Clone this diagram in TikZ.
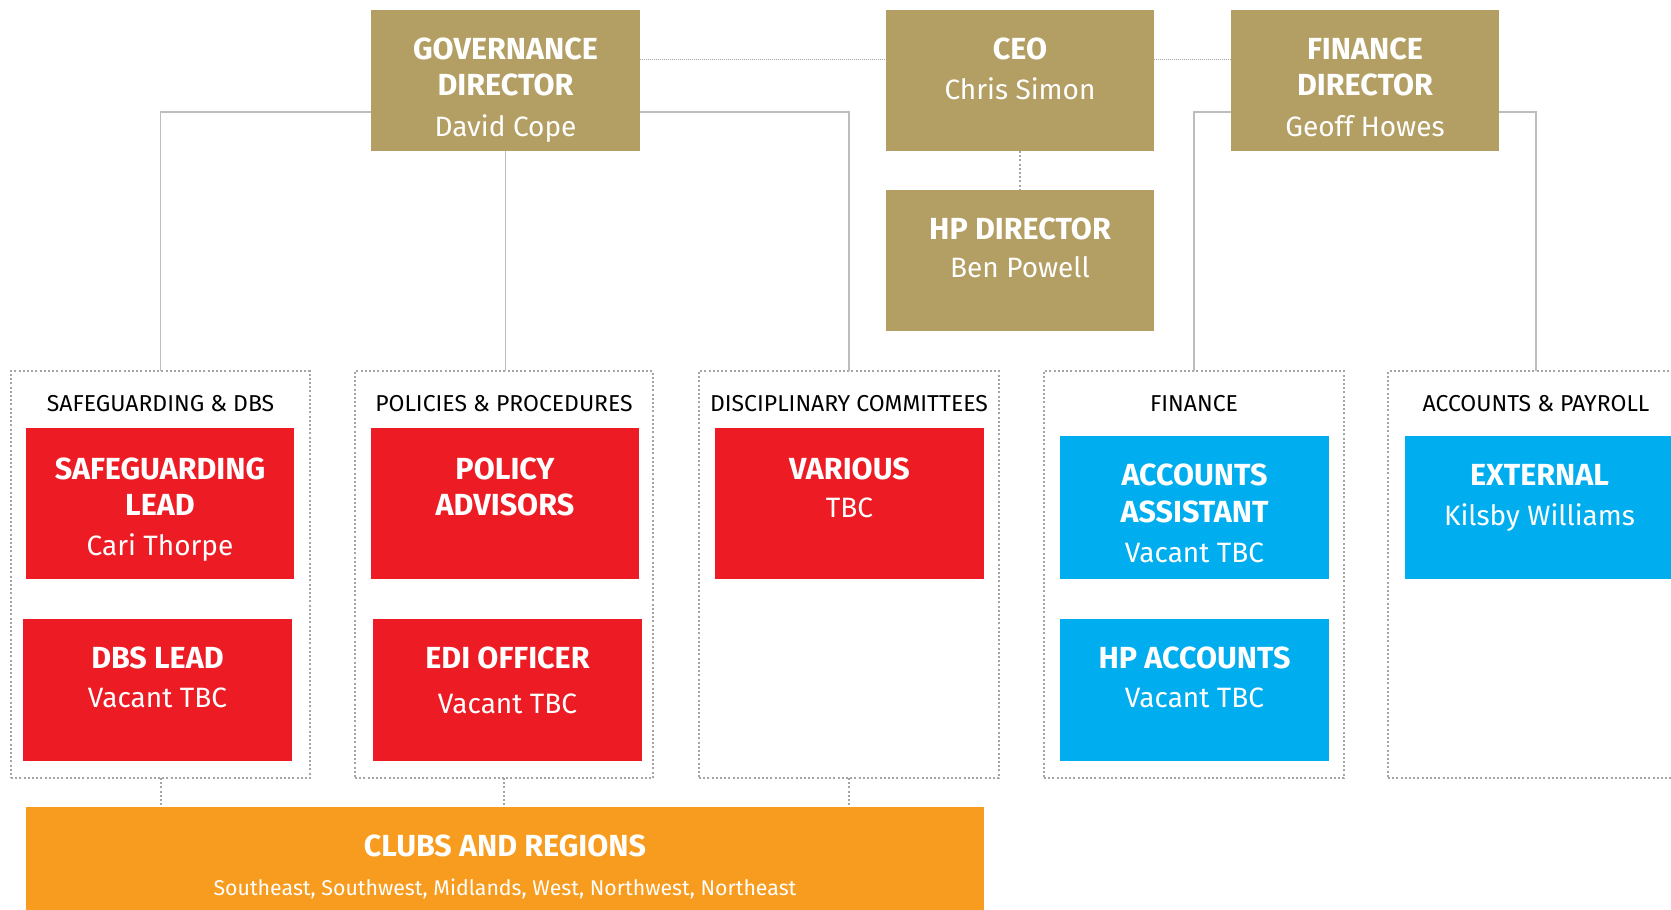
\documentclass[tikz,border=0pt]{standalone}
\usepackage{fontspec}
\setmainfont{Fira Sans}
\usetikzlibrary{calc}

\definecolor{gold}{HTML}{B39F64}
\definecolor{sgred}{HTML}{ED1C24}
\definecolor{sgblue}{HTML}{00AEEF}
\definecolor{sgorange}{HTML}{F89C1F}
\definecolor{linegrey}{HTML}{BDBDBD}
\definecolor{dotgrey}{HTML}{A5A5A5}

% one coloured post
\newcommand{\post}[6]{\node[post, fill=#2, minimum width=#5pt, minimum height=#6pt] (#1) at (#3,#4) {};}

\begin{document}
\begin{tikzpicture}[x=1pt, y=-1pt,
    post/.style={inner sep=0, outer sep=0, anchor=north west},
    group/.style={draw=dotgrey, line width=2pt, dash pattern=on 2pt off 2.2pt,
                  inner sep=0, outer sep=0, anchor=north west},
    head/.style={text=white, font=\bfseries\fontsize{30.5}{36}\selectfont, anchor=base, inner sep=0},
    who/.style={text=white, font=\fontsize{28}{32}\selectfont, anchor=base, inner sep=0},
    grouphead/.style={text=black, font=\fontsize{23}{27}\selectfont, anchor=base, inner sep=0},
    link/.style={draw=linegrey, line width=1.8pt},
    dotlink/.style={draw=dotgrey, line width=2pt, dash pattern=on 2pt off 2.2pt},
    finedot/.style={draw=dotgrey, line width=1pt, dash pattern=on 1pt off 1pt}]

    \path[use as bounding box, clip] (0,0) rectangle (1671,910);

    % Groups
    \node[group, minimum width=299pt, minimum height=407pt] (g1) at (11,371) {};
    \node[group, minimum width=298pt, minimum height=407pt] (g2) at (355,371) {};
    \node[group, minimum width=300pt, minimum height=407pt] (g3) at (699,371) {};
    \node[group, minimum width=300pt, minimum height=407pt] (g4) at (1044,371) {};
    \node[group, minimum width=296pt, minimum height=407pt] (g5) at (1388,371) {};

    \node[grouphead] (g1t) at (g1.center |- 0,411) {SAFEGUARDING \& DBS};
    \node[grouphead] (g2t) at (g2.center |- 0,411) {POLICIES \& PROCEDURES};
    \node[grouphead] (g3t) at (g3.center |- 0,411) {DISCIPLINARY COMMITTEES};
    \node[grouphead] (g4t) at (g4.center |- 0,411) {FINANCE};
    \node[grouphead] (g5t) at (g5.center |- 0,411) {ACCOUNTS \& PAYROLL};

    % Directors
    \post{gov}{gold}{371}{10}{269}{141}
    \post{ceo}{gold}{886}{10}{268}{141}
    \post{fin}{gold}{1231}{10}{268}{141}
    \post{hpd}{gold}{886}{190}{268}{141}

    \node[head] (govt1) at (gov.center |- 0,59) {GOVERNANCE};
    \node[head] (govt2) at (gov.center |- 0,95) {DIRECTOR};
    \node[who]  (govn)  at (gov.center |- 0,136) {David Cope};
    \node[head] (ceot)  at (ceo.center |- 0,59) {CEO};
    \node[who]  (ceon)  at (ceo.center |- 0,99) {Chris Simon};
    \node[head] (fint1) at (fin.center |- 0,59) {FINANCE};
    \node[head] (fint2) at (fin.center |- 0,95) {DIRECTOR};
    \node[who]  (finn)  at (fin.center |- 0,136) {Geoff Howes};
    \node[head] (hpdt)  at (hpd.center |- 0,239) {HP DIRECTOR};
    \node[who]  (hpdn)  at (hpd.center |- 0,277.5) {Ben Powell};

    % Staff
    \post{sgl}{sgred}{26}{428}{268}{151}
    \post{dbs}{sgred}{23}{619}{269}{142}
    \post{pol}{sgred}{371}{428}{268}{151}
    \post{edi}{sgred}{373}{619}{269}{142}
    \post{var}{sgred}{715}{428}{269}{151}
    \post{acc}{sgblue}{1060}{436}{269}{143}
    \post{hpa}{sgblue}{1060}{619}{269}{142}
    \post{ext}{sgblue}{1405}{436}{269}{143}

    \node[head] (sglt1) at (sgl.center |- 0,479) {SAFEGUARDING};
    \node[head] (sglt2) at (sgl.center |- 0,515) {LEAD};
    \node[who]  (sgln)  at (sgl.center |- 0,555.5) {Cari Thorpe};
    \node[head] (dbst)  at (dbs.center |- 0,668.5) {DBS LEAD};
    \node[who]  (dbsn)  at (dbs.center |- 0,707) {Vacant TBC};
    \node[head] (polt1) at (pol.center |- 0,479) {POLICY};
    \node[head] (polt2) at (pol.center |- 0,515) {ADVISORS};
    \node[head] (edit)  at (edi.center |- 0,668.5) {EDI OFFICER};
    \node[who]  (edin)  at (edi.center |- 0,713.5) {Vacant TBC};
    \node[head] (vart)  at (var.center |- 0,479) {VARIOUS};
    \node[who]  (varn)  at (var.center |- 0,517.5) {TBC};
    \node[head] (acct1) at (acc.center |- 0,485) {ACCOUNTS};
    \node[head] (acct2) at (acc.center |- 0,522.5) {ASSISTANT};
    \node[who]  (accn)  at (acc.center |- 0,562) {Vacant TBC};
    \node[head] (hpat)  at (hpa.center |- 0,668.5) {HP ACCOUNTS};
    \node[who]  (hpan)  at (hpa.center |- 0,707) {Vacant TBC};
    \node[head] (extt)  at (ext.center |- 0,485) {EXTERNAL};
    \node[who]  (extn)  at (ext.center |- 0,525) {Kilsby Williams};

    % Clubs
    \post{clubs}{sgorange}{26}{807}{958}{110}
    \node[head] (clubst) at (clubs.center |- 0,856) {CLUBS AND REGIONS};
    \node[text=white, font=\fontsize{21.3}{25}\selectfont, anchor=base, inner sep=0] (clubsn)
        at (clubs.center |- 0,895) {Southeast, Southwest, Midlands, West, Northwest, Northeast};

    % Lines
    \draw[finedot] ($(gov.north east)+(0,49)$) -- ($(ceo.north west)+(0,49)$);
    \draw[finedot] ($(ceo.north east)+(0,49)$) -- ($(fin.north west)+(0,49)$);
    \draw[dotlink] (ceo.south) -- (hpd.north);

    \draw[link] (gov.west |- 0,112) -| (g1.north);
    \draw[link] (gov.south) -- (gov.south |- g2.north);
    \draw[link] (gov.east |- 0,112) -| (g3.north);
    \draw[link] (fin.west |- 0,112) -| (g4.north);
    \draw[link] (fin.east |- 0,112) -| (g5.north);

    \draw[dotlink] (g1.south) -- (g1.south |- clubs.north);
    \draw[dotlink] (g2.south) -- (g2.south |- clubs.north);
    \draw[dotlink] (g3.south) -- (g3.south |- clubs.north);
\end{tikzpicture}
\end{document}
